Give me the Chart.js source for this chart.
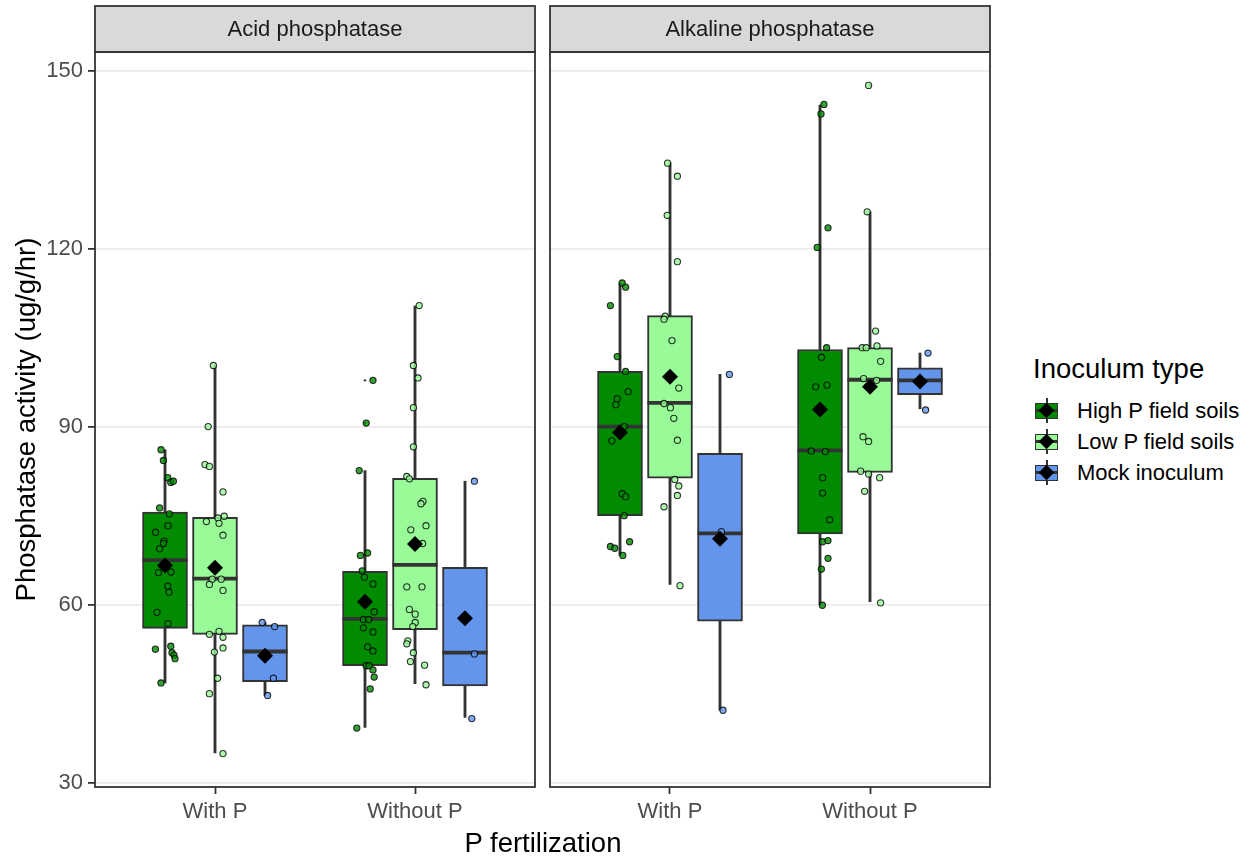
<!DOCTYPE html>
<html>
<head>
<meta charset="utf-8">
<title>Phosphatase activity</title>
<script src="https://cdn.jsdelivr.net/npm/chart.js@4.4.0/dist/chart.umd.min.js"></script>
<style>
  html, body { margin: 0; padding: 0; background: #fff; }
  body { position: relative; width: 1250px; height: 857px; overflow: hidden;
         font-family: "Liberation Sans", Arial, sans-serif; }
  canvas { position: absolute; top: 0; }
  #acidChart { left: 0; }
  #alkChart { left: 545px; }
  #xTitle { position: absolute; left: 343px; width: 400px; top: 829px; text-align: center;
            font-size: 27.5px; line-height: 27.5px; color: #000; }
  #legendTitle { position: absolute; left: 1033px; top: 355px; font-size: 27.5px; line-height: 27.5px; color: #000; }
  .item { position: absolute; left: 1031px; height: 31px; }
  .key { position: absolute; left: 0; top: 0; width: 31px; height: 31px; }
  .key .wh { position: absolute; left: 14.5px; top: 3px; width: 2px; height: 25px; background: #333; }
  .key .bx { position: absolute; left: 4px; top: 8px; width: 23px; height: 15.5px; box-sizing: border-box; border: 1.8px solid #333; }
  .key .md { position: absolute; left: 4px; top: 14px; width: 23px; height: 3px; background: #333; }
  .key .dm { position: absolute; left: 10px; top: 10px; width: 11px; height: 11px; background: #000; transform: rotate(45deg); }
  .item span { position: absolute; left: 46px; top: 0; white-space: nowrap; font-size: 22px; line-height: 31px; color: #000; }
</style>
</head>
<body>
<canvas id="acidChart" width="545" height="857"></canvas>
<canvas id="alkChart" width="455" height="857"></canvas>
<div id="xTitle">P fertilization</div>
<div id="legendTitle">Inoculum type</div>
<div id="legend"></div>

<script>
const inoculum = ['High P field soils', 'Low P field soils', 'Mock inoculum'];
const fertilization = ['With P', 'Without P'];
const yTicks = [30, 60, 90, 120, 150];

// box statistics: one row per inoculum type, columns With P / Without P
const acidWhiskerLow  = [[46.8, 39.3], [35.0, 46.7], [44.7, 41.0]];
const acidQ1          = [[56.0, 49.7], [55.0, 55.8], [47.0, 46.3]];
const acidMedian      = [[67.5, 57.6], [64.4, 66.7], [52.1, 51.9]];
const acidQ3          = [[75.6, 65.6], [74.7, 81.3], [56.6, 66.3]];
const acidWhiskerHigh = [[86.1, 82.6], [100.3, 110.3], [57.0, 80.8]];
const acidMean        = [[66.6, 60.5], [66.2, 70.2], [51.4, 57.7]];
const acidOutliers    = [[[], [97.8, 90.6]], [[], []], [[], []]];

const alkWhiskerLow  = [[68.3, 60.0], [63.4, 60.5], [42.2, 93.0]];
const alkQ1          = [[75.0, 71.9], [81.3, 82.3], [57.2, 95.4]];
const alkMedian      = [[90.0, 86.0], [94.0, 97.9], [72.0, 97.8]];
const alkQ3          = [[99.3, 103.0], [108.7, 103.3], [85.5, 99.9]];
const alkWhiskerHigh = [[114.2, 144.2], [134.4, 126.2], [98.8, 102.4]];
const alkMean        = [[89.0, 92.9], [98.4, 96.7], [71.1, 97.6]];
const alkOutliers    = [[[], []], [[], [147.5]], [[], []]];

// individual samples and their horizontal jitter (in category units)
const acidHighWithP = [86.1, 84.3, 81.4, 80.6, 80.8, 76.3, 75.3, 73.3, 72.2, 70.7, 70.3, 69.4, 65.4, 65.5, 63.1, 62.1, 58.7, 56.8, 52.5, 53.0, 51.9, 51.5, 50.9, 46.8];
const acidHighWithPJit = [-0.02, -0.008, 0.014, 0.029, 0.042, -0.027, 0.022, 0.015, -0.047, -0.005, -0.008, -0.027, -0.033, 0.03, 0.014, 0.02, -0.04, 0.015, -0.048, 0.029, 0.035, 0.045, 0.05, -0.02];
const acidLowWithP = [100.3, 90.0, 83.6, 83.3, 79.0, 74.9, 74.6, 73.7, 74.0, 71.7, 64.3, 64.3, 63.4, 62.4, 55.0, 55.5, 54.5, 52.7, 52.0, 47.6, 45.0, 34.9];
const acidLowWithPJit = [-0.008, -0.034, -0.05, -0.028, 0.04, 0.046, 0.015, 0.02, -0.043, 0.04, -0.014, 0.031, -0.028, 0.04, -0.028, 0.02, 0.04, 0.04, -0.003, 0.013, -0.028, 0.04];
const acidMockWithP = [57.0, 56.3, 47.6, 44.7];
const acidMockWithPJit = [-0.014, 0.048, 0.042, 0.013];
const acidHighWithoutP = [97.8, 90.6, 82.6, 68.3, 68.7, 65.7, 64.6, 63.5, 58.8, 57.5, 57.5, 56.1, 55.4, 52.9, 52.2, 49.7, 49.7, 49.0, 47.8, 45.8, 39.2];
const acidHighWithoutPJit = [0.04, 0.006, -0.029, -0.023, 0.013, -0.014, -0.003, 0.04, 0.046, -0.008, 0.018, -0.008, 0.04, 0.013, 0.04, 0.006, 0.021, 0.04, 0.046, 0.026, -0.041];
const acidLowWithoutP = [110.4, 100.3, 98.2, 93.2, 86.6, 81.6, 81.2, 77.4, 77.0, 72.6, 73.3, 70.3, 63.0, 63.0, 59.2, 58.4, 57.0, 56.3, 53.9, 53.4, 51.9, 50.4, 49.8, 46.5];
const acidLowWithoutPJit = [0.021, -0.008, 0.015, -0.008, -0.008, -0.041, -0.028, 0.04, 0.03, -0.021, 0.055, 0.038, -0.041, 0.035, -0.028, 0.001, 0.001, -0.011, -0.036, -0.041, -0.008, -0.023, 0.048, 0.055];
const acidMockWithoutP = [80.8, 51.7, 40.8];
const acidMockWithoutPJit = [0.047, 0.047, 0.034];

const alkHighWithP = [114.2, 113.5, 110.4, 101.8, 99.3, 95.9, 94.7, 93.7, 90.0, 87.6, 78.7, 78.2, 75.0, 70.6, 69.8, 69.5, 68.3];
const alkHighWithPJit = [0.011, 0.028, -0.048, -0.014, 0.028, 0.041, -0.014, -0.021, 0.021, -0.041, 0.011, 0.028, 0.021, 0.048, -0.048, -0.026, 0.014];
const alkLowWithP = [134.4, 132.2, 125.6, 117.8, 108.6, 108.1, 104.5, 96.5, 93.9, 93.2, 91.4, 87.7, 81.1, 80.0, 78.4, 76.5, 63.2];
const alkLowWithPJit = [-0.012, 0.037, -0.014, 0.037, -0.024, -0.03, 0.01, 0.044, -0.03, 0.002, 0.019, 0.037, 0.024, 0.044, 0.037, -0.03, 0.05];
const alkMockWithP = [98.8, 72.3, 42.2];
const alkMockWithPJit = [0.047, 0.007, 0.015];
const alkHighWithoutP = [144.3, 142.7, 123.5, 120.2, 103.3, 101.7, 96.7, 97.0, 85.9, 85.8, 81.4, 78.8, 74.3, 70.6, 70.8, 67.8, 66.0, 59.9];
const alkHighWithoutPJit = [0.02, 0.005, 0.04, -0.014, 0.033, 0.007, -0.022, 0.035, -0.044, 0.027, 0.013, 0.013, 0.048, 0.013, 0.04, 0.04, 0.007, 0.012];
const alkLowWithoutP = [147.5, 126.2, 106.1, 103.3, 103.3, 103.6, 101.0, 98.1, 97.8, 88.3, 87.5, 82.5, 82.0, 81.4, 79.1, 60.3];
const alkLowWithoutPJit = [-0.007, -0.014, 0.028, -0.039, -0.019, 0.035, 0.053, -0.032, 0.033, -0.035, -0.007, -0.047, -0.007, 0.048, -0.027, 0.053];
const alkMockWithoutP = [102.4, 97.6, 92.8];
const alkMockWithoutPJit = [0.04, 0.001, 0.028];

const boxFills = ['#008B00', '#98FB98', '#6495ED'];
const dotFills = ['rgba(0,139,0,0.8)', 'rgba(152,251,152,0.8)', 'rgba(100,149,237,0.8)'];
const ink = '#333333';

Chart.defaults.font.family = '"Liberation Sans", Arial, sans-serif';

// dodge position of a box: category 1 or 2, three boxes side by side
function slot(fi, gi) {
  return fi + 1 + (gi - 1) * 0.25;
}

function buildDatasets(lo, q1, med, q3, hi, mean, outliers, samples) {
  const whiskers = [], medians = [], means = [], outs = [];
  const sets = [];
  inoculum.forEach((name, gi) => {
    const boxes = [];
    const dots = [];
    fertilization.forEach((f, fi) => {
      const x = slot(fi, gi);
      whiskers.push({ x, y: [lo[gi][fi], hi[gi][fi]] });
      boxes.push({ x, y: [q1[gi][fi], q3[gi][fi]] });
      medians.push({ x, y: med[gi][fi] });
      means.push({ x, y: mean[gi][fi] });
      outliers[gi][fi].forEach(v => outs.push({ x, y: v }));
      const [vals, jit] = samples[gi][fi];
      vals.forEach((v, k) => dots.push({ x: x + jit[k], y: v }));
    });
    sets.push({
      type: 'bar', label: name, data: boxes, order: 5,
      backgroundColor: boxFills[gi], borderColor: ink, borderWidth: 2,
      borderSkipped: false, barThickness: 45, grouped: false
    });
    sets.push({
      type: 'scatter', label: name + ' samples', data: dots, order: 2,
      pointRadius: 3.1, pointBackgroundColor: dotFills[gi],
      pointBorderColor: 'rgba(0,0,0,0.8)', pointBorderWidth: 1.1
    });
  });
  sets.push({
    type: 'bar', label: 'whiskers', data: whiskers, order: 6,
    backgroundColor: ink, borderWidth: 0, barThickness: 2.2, grouped: false
  });
  sets.push({
    type: 'scatter', label: 'medians', data: medians, order: 4,
    pointStyle: 'line', pointRadius: 22.5, pointBorderWidth: 3.8, pointBorderColor: ink
  });
  sets.push({
    type: 'scatter', label: 'outliers', data: outs, order: 3,
    pointRadius: 1.2, pointBackgroundColor: ink, pointBorderWidth: 0
  });
  sets.push({
    type: 'scatter', label: 'means', data: means, order: 1,
    pointStyle: 'rectRot', pointRadius: 8, pointBackgroundColor: '#000', pointBorderWidth: 0
  });
  return sets;
}

// grey strip with the facet name, plus the dark panel border
const facetFrame = {
  id: 'facetFrame',
  afterDraw(chart, args, opts) {
    const { ctx, chartArea: a } = chart;
    const w = a.right - a.left;
    ctx.save();
    ctx.fillStyle = '#D9D9D9';
    ctx.fillRect(a.left, opts.stripTop, w, a.top - opts.stripTop);
    ctx.strokeStyle = ink;
    ctx.lineWidth = 1.8;
    ctx.strokeRect(a.left, opts.stripTop, w, a.top - opts.stripTop);
    ctx.strokeRect(a.left, a.top, w, a.bottom - a.top);
    ctx.fillStyle = '#1A1A1A';
    ctx.font = '22px "Liberation Sans", Arial, sans-serif';
    ctx.textAlign = 'center';
    ctx.textBaseline = 'middle';
    ctx.fillText(opts.label, a.left + w / 2, (opts.stripTop + a.top) / 2 + 1);
    ctx.restore();
  }
};

function makePanel(id, label, datasets, withYAxis) {
  return new Chart(document.getElementById(id), {
    type: 'scatter',
    data: { datasets },
    plugins: [facetFrame],
    options: {
      responsive: false,
      maintainAspectRatio: false,
      animation: false,
      events: [],
      layout: { autoPadding: false, padding: { left: 0, right: 10, top: 52, bottom: 0 } },
      plugins: {
        legend: { display: false },
        tooltip: { enabled: false },
        facetFrame: { label, stripTop: 6 }
      },
      scales: {
        x: {
          type: 'linear', min: 0.4, max: 2.6, offset: false,
          afterBuildTicks: s => { s.ticks = fertilization.map((f, i) => ({ value: i + 1 })); },
          afterFit: s => { s.height = 70; s.paddingLeft = 0; s.paddingRight = 0; },
          ticks: {
            callback: v => fertilization[v - 1],
            color: '#4D4D4D', font: { size: 22 }, padding: 5, maxRotation: 0
          },
          grid: {
            offset: false, drawOnChartArea: false, drawTicks: true,
            tickLength: 7, tickColor: ink, tickWidth: 1.8
          },
          border: { display: false }
        },
        y: {
          type: 'linear', min: 29.27, max: 153.13, beginAtZero: false,
          afterBuildTicks: s => { s.ticks = yTicks.map(v => ({ value: v })); },
          afterFit: s => { s.width = withYAxis ? 95 : 5; },
          ticks: { display: withYAxis, color: '#4D4D4D', font: { size: 22 }, padding: 5 },
          grid: {
            color: '#EBEBEB', lineWidth: 1.8,
            drawTicks: withYAxis, tickLength: 7, tickColor: ink, tickWidth: 1.8
          },
          border: { display: false },
          title: {
            display: withYAxis, text: 'Phosphatase activity (ug/g/hr)',
            color: '#000', font: { size: 27.5 }, padding: { top: 11, bottom: 0 }
          }
        }
      }
    }
  });
}

makePanel('acidChart', 'Acid phosphatase',
  buildDatasets(acidWhiskerLow, acidQ1, acidMedian, acidQ3, acidWhiskerHigh, acidMean, acidOutliers, [
    [[acidHighWithP, acidHighWithPJit], [acidHighWithoutP, acidHighWithoutPJit]],
    [[acidLowWithP, acidLowWithPJit], [acidLowWithoutP, acidLowWithoutPJit]],
    [[acidMockWithP, acidMockWithPJit], [acidMockWithoutP, acidMockWithoutPJit]]
  ]), true);

makePanel('alkChart', 'Alkaline phosphatase',
  buildDatasets(alkWhiskerLow, alkQ1, alkMedian, alkQ3, alkWhiskerHigh, alkMean, alkOutliers, [
    [[alkHighWithP, alkHighWithPJit], [alkHighWithoutP, alkHighWithoutPJit]],
    [[alkLowWithP, alkLowWithPJit], [alkLowWithoutP, alkLowWithoutPJit]],
    [[alkMockWithP, alkMockWithPJit], [alkMockWithoutP, alkMockWithoutPJit]]
  ]), false);

// legend keys: box with whisker stubs, median and mean marker
const legend = document.getElementById('legend');
inoculum.forEach((name, gi) => {
  const item = document.createElement('div');
  item.className = 'item';
  item.style.top = (395 + gi * 31) + 'px';
  item.innerHTML =
    '<div class="key"><i class="wh"></i><i class="bx" style="background:' + boxFills[gi] + '"></i>' +
    '<i class="md"></i><i class="dm"></i></div><span>' + name + '</span>';
  legend.appendChild(item);
});
</script>
</body>
</html>
